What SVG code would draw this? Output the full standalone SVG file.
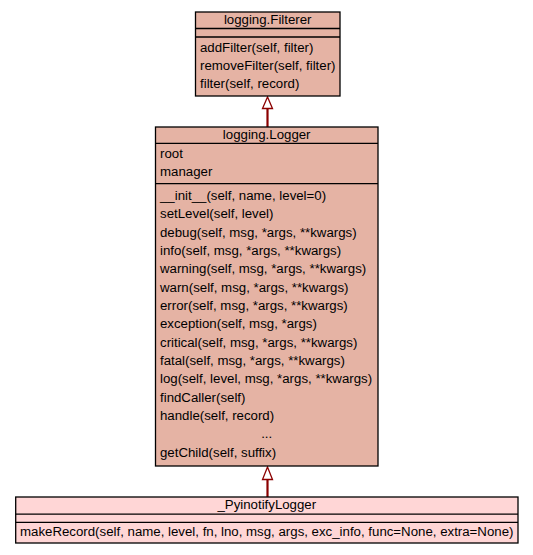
<svg xmlns="http://www.w3.org/2000/svg" width="533" height="555" viewBox="0 0 533 555">
<style>
.box{stroke:#000;stroke-width:1.3}
.a{fill:#e5b3a4}
.b{fill:#ffd6d6}
.ln{stroke:#000;stroke-width:1.3;fill:none}
text{font-family:"Liberation Sans",Arial,sans-serif;font-size:13.25px;fill:#000}
.t{text-anchor:middle}
.edge{stroke:#8b0000;stroke-width:2.2;fill:none}
.head{stroke:#8b0000;stroke-width:1.3;fill:#fff}
</style>
<rect width="533" height="555" fill="#fff"/>
<g id="connectors">
<line class="edge" x1="267.5" y1="127" x2="267.5" y2="108"/>
<polygon class="head" points="267.5,97 262.5,108.5 272.5,108.5"/>
<line class="edge" x1="267.5" y1="497" x2="267.5" y2="479"/>
<polygon class="head" points="267.5,467 262.5,479.5 272.5,479.5"/>
</g>
<g id="Filterer">
<rect class="box a" x="195.5" y="12" width="144.5" height="84"/>
<line class="ln" x1="195.5" y1="28.5" x2="340" y2="28.5"/>
<line class="ln" x1="195.5" y1="37" x2="340" y2="37"/>
<text class="t" x="267.7" y="24">logging.Filterer</text>
<text x="200" y="51.7">addFilter(self, filter)</text>
<text x="200" y="70">removeFilter(self, filter)</text>
<text x="200" y="88.3">filter(self, record)</text>
</g>
<g id="Logger">
<rect class="box a" x="155.5" y="127" width="222.5" height="339"/>
<line class="ln" x1="155.5" y1="143.3" x2="378" y2="143.3"/>
<line class="ln" x1="155.5" y1="183.6" x2="378" y2="183.6"/>
<text class="t" x="266.7" y="138.5">logging.Logger</text>
<text x="160" y="157.7">root</text>
<text x="160" y="175.8">manager</text>
<text x="160" y="200">__init__(self, name, level=0)</text>
<text x="160" y="218.3">setLevel(self, level)</text>
<text x="160" y="236.7">debug(self, msg, *args, **kwargs)</text>
<text x="160" y="255">info(self, msg, *args, **kwargs)</text>
<text x="160" y="273.3">warning(self, msg, *args, **kwargs)</text>
<text x="160" y="291.7">warn(self, msg, *args, **kwargs)</text>
<text x="160" y="310">error(self, msg, *args, **kwargs)</text>
<text x="160" y="328.3">exception(self, msg, *args)</text>
<text x="160" y="346.7">critical(self, msg, *args, **kwargs)</text>
<text x="160" y="365">fatal(self, msg, *args, **kwargs)</text>
<text x="160" y="383.3">log(self, level, msg, *args, **kwargs)</text>
<text x="160" y="401.7">findCaller(self)</text>
<text x="160" y="420">handle(self, record)</text>
<text class="t" x="266.7" y="438.3">...</text>
<text x="160" y="456.7">getChild(self, suffix)</text>
</g>
<g id="PyinotifyLogger">
<rect class="box b" x="15.7" y="497" width="502.3" height="46"/>
<line class="ln" x1="15.7" y1="514.2" x2="518" y2="514.2"/>
<line class="ln" x1="15.7" y1="522.3" x2="518" y2="522.3"/>
<text class="t" x="266.8" y="509.3">_PyinotifyLogger</text>
<text x="20" y="536">makeRecord(self, name, level, fn, lno, msg, args, exc_info, func=None, extra=None)</text>
</g>
</svg>
